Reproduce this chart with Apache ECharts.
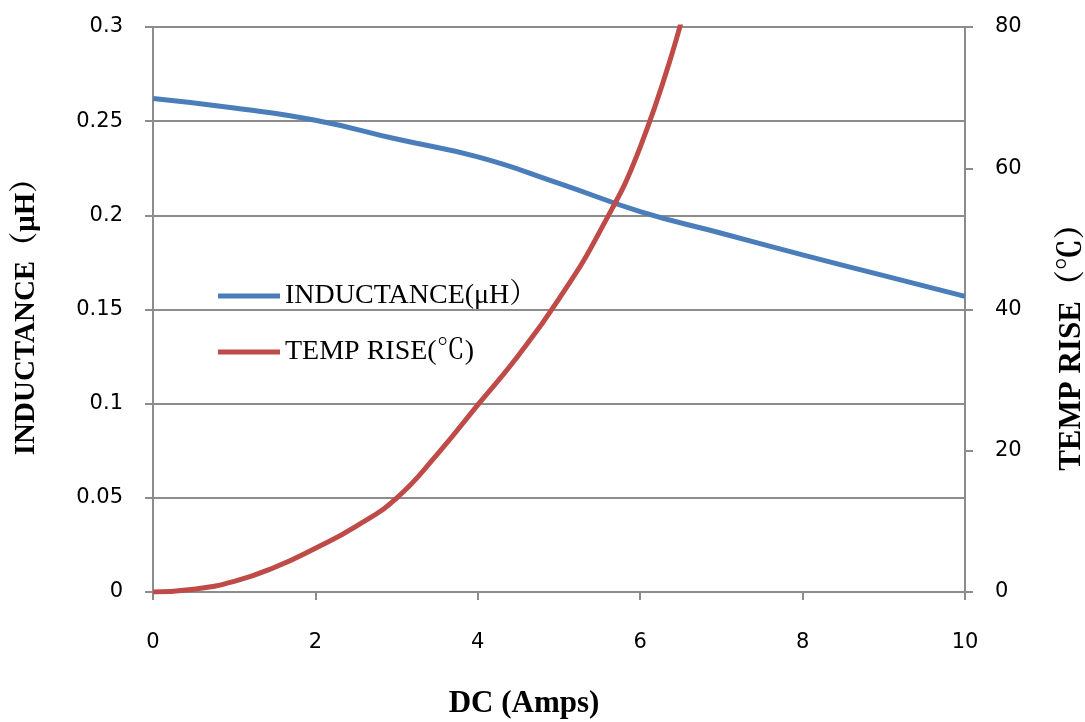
<!DOCTYPE html>
<html><head><meta charset="utf-8">
<script src="https://cdn.jsdelivr.net/npm/echarts@6/dist/echarts.min.js"></script>
<style>html,body{margin:0;padding:0;background:#fff;overflow:hidden}#c{width:1085px;height:722px}</style>
</head><body><div id="c"></div>
<script>
var indX = [0, 1, 2, 3, 4, 5, 6, 7, 8, 9, 10];
var inductance = [0.262, 0.257, 0.2505, 0.2405, 0.231, 0.217, 0.202, 0.1905, 0.179, 0.168, 0.157];
var tempX = [0, 0.5, 1, 1.5, 2, 2.5, 3, 3.5, 4, 4.5, 5, 5.5, 6, 6.5];
var tempRise = [0, 0.4, 1.5, 3.5, 6.2, 9.3, 13.3, 19.5, 26.5, 33.5, 41.5, 51, 63, 80.5];
var seriesNames = ['INDUCTANCE(μH）', 'TEMP RISE(℃)'];

var chart = echarts.init(document.getElementById('c'), null, {width: 1085, height: 722});
var axisGray = '#8c8c8c';
var serifCJK = "'Liberation Serif', 'Noto Serif CJK SC', 'Noto Sans CJK SC', serif";
var tickFont = {fontFamily: 'DejaVu Sans', fontSize: 21, color: '#000'};
chart.setOption({
  animation: false,
  grid: {left: 153, top: 27, width: 812, height: 565, outerBoundsMode: 'none', containLabel: false},
  legend: {
    orient: 'vertical', left: 213, top: 277, itemGap: 28,
    itemWidth: 62, itemHeight: 5, icon: 'rect',
    textStyle: {fontFamily: serifCJK, fontSize: 28, color: '#000'},
    data: seriesNames
  },
  xAxis: {
    type: 'value', min: 0, max: 10, interval: 2,
    name: 'DC (Amps)', nameLocation: 'middle', nameGap: 96,
    nameTextStyle: {fontFamily: 'Liberation Serif', fontWeight: 'bold', fontSize: 31, color: '#000', padding: [0, 70, 0, 0]},
    axisLine: {lineStyle: {color: axisGray, width: 2}},
    axisTick: {show: true, length: 8, lineStyle: {color: axisGray, width: 2}},
    axisLabel: Object.assign({margin: 40}, tickFont),
    splitLine: {show: false}
  },
  yAxis: [{
    type: 'value', min: 0, max: 0.3, interval: 0.05,
    name: 'INDUCTANCE（μH）', nameLocation: 'middle', nameGap: 112, nameRotate: 90,
    nameTextStyle: {fontFamily: serifCJK, fontWeight: 'bold', fontSize: 29, color: '#000'},
    axisLine: {show: true, lineStyle: {color: axisGray, width: 2}},
    axisTick: {show: true, length: 8, lineStyle: {color: axisGray, width: 2}},
    axisLabel: Object.assign({margin: 30}, tickFont),
    splitLine: {show: true, lineStyle: {color: axisGray, width: 2}}
  }, {
    type: 'value', min: 0, max: 80, interval: 20, position: 'right',
    name: 'TEMP RISE（℃）', nameLocation: 'middle', nameGap: 91, nameRotate: 90,
    nameTextStyle: {fontFamily: serifCJK, fontWeight: 'bold', fontSize: 31, color: '#000', padding: [0, 60, 0, 0]},
    axisLine: {show: true, lineStyle: {color: axisGray, width: 2}},
    axisTick: {show: true, length: 8, lineStyle: {color: axisGray, width: 2}},
    axisLabel: Object.assign({margin: 30}, tickFont),
    splitLine: {show: false}
  }],
  series: [{
    name: seriesNames[0], type: 'line', yAxisIndex: 0, smooth: true, symbol: 'none',
    lineStyle: {color: '#4a7ebb', width: 5}, itemStyle: {color: '#4a7ebb'},
    data: indX.map(function (x, i) { return [x, inductance[i]]; })
  }, {
    name: seriesNames[1], type: 'line', yAxisIndex: 1, smooth: true, symbol: 'none',
    lineStyle: {color: '#be4b48', width: 5}, itemStyle: {color: '#be4b48'},
    data: tempX.map(function (x, i) { return [x, tempRise[i]]; })
  }]
});
</script></body></html>
